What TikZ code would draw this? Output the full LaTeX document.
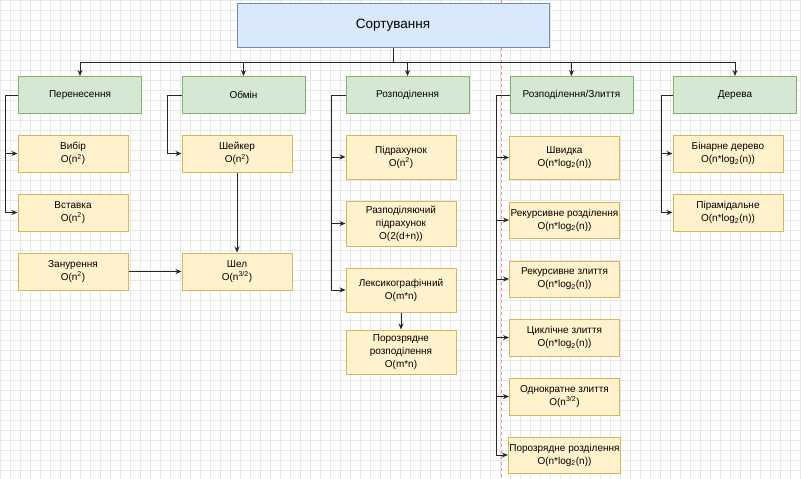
\documentclass[tikz,border=0pt]{standalone}
\usepackage{fontspec}
\setmainfont{Liberation Sans}
\usepackage{xcolor}
\usepackage{tikz}
\usetikzlibrary{positioning, arrows.meta, calc}

\definecolor{rootfill}{HTML}{DAE8FC}
\definecolor{rootline}{HTML}{6C8EBF}
\definecolor{grpfill}{HTML}{D5E8D4}
\definecolor{grpline}{HTML}{82B366}
\definecolor{algfill}{HTML}{FFF2CC}
\definecolor{algline}{HTML}{D6B656}
\definecolor{gridcol}{HTML}{E8E8E8}

\begin{document}
\begin{tikzpicture}[
        x=1pt, y=-1pt,
        font=\fontsize{10}{13}\selectfont,
        root/.style={draw=rootline, fill=rootfill, line width=1pt, minimum width=312, minimum height=44, font=\fontsize{13.5}{16}\selectfont},
        group/.style={draw=grpline, fill=grpfill, line width=1pt, minimum width=123, minimum height=37},
        algo/.style={draw=algline, fill=algfill, line width=1pt, minimum width=110, minimum height=#1, align=center, inner sep=1pt},
        algo/.default=37,
        conn/.style={draw=black!85, line width=1pt, -{Stealth[length=6pt, width=5pt]}},
        gridline/.style={draw=gridcol, line width=0.5pt},
    ]
    \useasboundingbox (0,0) rectangle (801,479);
    % ---- background grid ----
    \fill[white] (0,0) rectangle (801,479);
    \foreach \i in {0,10,...,800}
        \draw[gridline] (\i,0) -- (\i,479);
    \foreach \j in {0,10,...,470}
        \draw[gridline] (0,\j) -- (801,\j);
    \draw[red!45, dashed, line width=0.6pt] (501,0) -- (501,479);

    % ---- root ----
    \node[root] (sort) at (393,25) {Сортування};

    % ---- groups ----
    \node[group] (pere) at (80,95) {Перенесення};
    \node[group] (obmin) at (243.5,95) {Обмін};
    \node[group] (rozp) at (407.5,95) {Розподілення};
    \node[group] (rozl) at (571.5,95) {Розподілення/Злиття};
    \node[group] (der) at (735,95) {Дерева};

    \foreach \g in {pere, obmin, rozp, rozl, der}
        \draw[conn] (sort.south) -- ++(0,15) -| (\g.north);

    % ---- Перенесення ----
    \node[algo] (vybir) at (73,153.5) {Вибір\\O(n\textsuperscript{2})};
    \node[algo] (vstavka) at (73,212.5) {Вставка\\O(n\textsuperscript{2})};
    \node[algo] (zanur) at (73,271.5) {Занурення\\O(n\textsuperscript{2})};
    \foreach \c in {vybir, vstavka}
        \draw[conn] (pere.west) -- ++(-13,0) |- (\c.west);

    % ---- Обмін ----
    \node[algo] (sheiker) at (237,153.5) {Шейкер\\O(n\textsuperscript{2})};
    \node[algo] (shel) at (237,271.5) {Шел\\O(n\textsuperscript{3/2})};
    \draw[conn] (obmin.west) -- ++(-14,0) |- (sheiker.west);
    \draw[conn] (sheiker) -- (shel);
    \draw[conn] (zanur) -- (shel);

    % ---- Розподілення ----
    \node[algo=44] (pidrah) at (401,157) {Підрахунок\\O(n\textsuperscript{2})};
    \node[algo=45] (rozpidr) at (401,223.5) {Разподіляючий\\підрахунок\\O(2(d+n))};
    \node[algo=44] (leks) at (401,290) {Лексикографічний\\O(m*n)};
    \node[algo=44] (porozr) at (401,352) {Порозрядне\\розподілення\\O(m*n)};
    \foreach \c in {pidrah, rozpidr, leks}
        \draw[conn] (rozp.west) -- ++(-14,0) |- (\c.west);
    \draw[conn] (leks) -- (porozr);

    % ---- Розподілення/Злиття ----
    \node[algo=43] (shvyd) at (564.5,157.5) {Швидка\\O(n*log\textsubscript{2}(n))};
    \node[algo=36] (rekroz) at (564.5,220) {Рекурсивне розділення\\O(n*log\textsubscript{2}(n))};
    \node[algo=36] (rekzl) at (564.5,279) {Рекурсивне злиття\\O(n*log\textsubscript{2}(n))};
    \node[algo] (cykl) at (564.5,337.5) {Циклічне злиття\\O(n*log\textsubscript{2}(n))};
    \node[algo] (odnokr) at (564.5,396.5) {Однократне злиття\\O(n\textsuperscript{3/2})};
    \node[algo=36] (porrozd) at (564.5,455) {Порозрядне розділення\\O(n*log\textsubscript{2}(n))};
    \foreach \c in {shvyd, rekroz, rekzl, cykl, odnokr, porrozd}
        \draw[conn] (rozl.west) -- ++(-13,0) |- (\c.west);

    % ---- Дерева ----
    \node[algo] (binar) at (728,153.5) {Бінарне дерево\\O(n*log\textsubscript{2}(n))};
    \node[algo] (piram) at (728,212.5) {Пірамідальне\\O(n*log\textsubscript{2}(n))};
    \foreach \c in {binar, piram}
        \draw[conn] (der.west) -- ++(-12,0) |- (\c.west);
\end{tikzpicture}
\end{document}
